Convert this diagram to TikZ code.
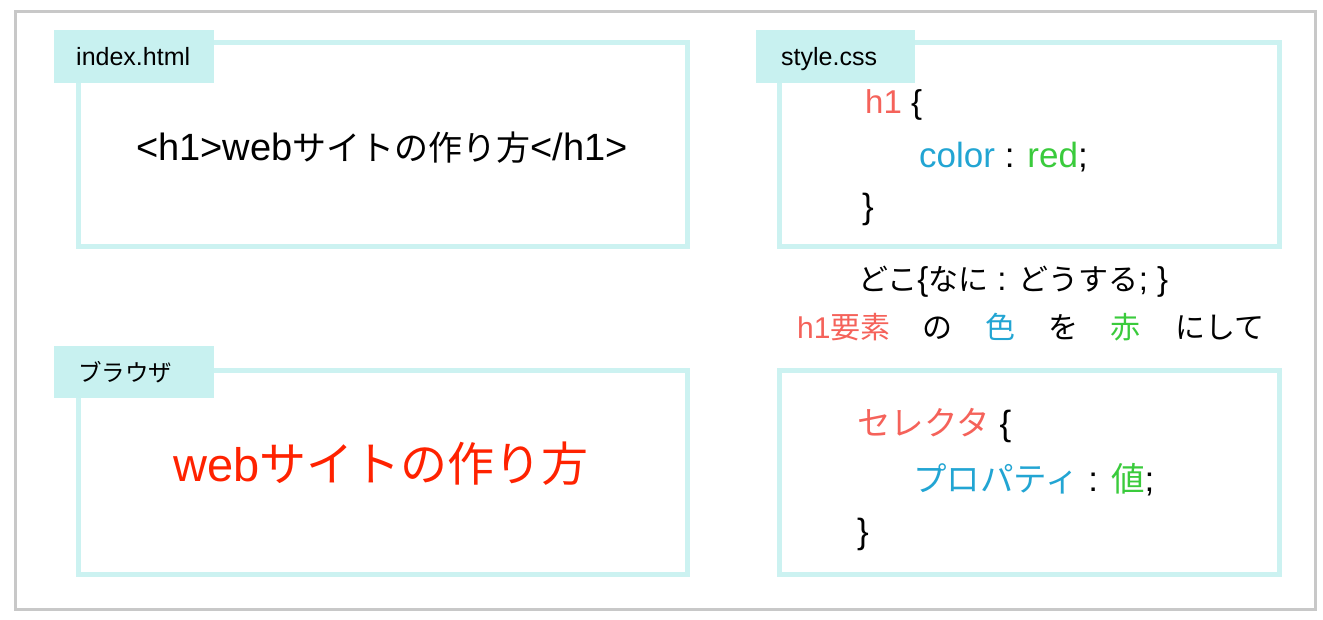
\documentclass[tikz,border=0pt]{standalone}
\usepackage{fontspec}
\setmainfont{Liberation Sans}
\newfontfamily\jp{Noto Sans CJK JP}
\definecolor{frame}{HTML}{C8C8C8}
\definecolor{cyanline}{HTML}{CCF2F1}
\definecolor{tabfill}{HTML}{C8F1F0}
\definecolor{sel}{HTML}{F5625A}
\definecolor{prop}{HTML}{22A5D3}
\definecolor{val}{HTML}{3ACB3C}
\definecolor{bigred}{HTML}{FF2200}
\newcommand{\fs}[1]{\fontsize{#1}{#1}\selectfont}
\newcommand{\jt}[2]{{\jp\fs{#1}#2}}
\tikzset{
  boxline/.style={draw=cyanline, line width=5pt},
  tabbox/.style={fill=tabfill},
  lab/.style={anchor=base west, inner sep=0pt, font=\fs{25}},
  code/.style={anchor=base west, inner sep=0pt, font=\fs{35}},
  expl/.style={anchor=base west, inner sep=0pt, font=\fs{30}},
}
\begin{document}
\begin{tikzpicture}[x=1pt,y=-1pt]
\useasboundingbox (0,0) rectangle (1323,619);
\fill[white] (0,0) rectangle (1323,619);
\draw[frame, line width=3pt] (15,11) rectangle (1315,609);
% boxes
\draw[boxline] (78,42) rectangle (687,246);
\draw[boxline] (779,42) rectangle (1279,246);
\draw[boxline] (78,370) rectangle (687,574);
\draw[boxline] (779,370) rectangle (1279,574);
% tabs
\fill[tabbox] (54,30) rectangle (214,83);
\fill[tabbox] (756,30) rectangle (915,83);
\fill[tabbox] (54,346) rectangle (214,398);
\node[lab] (t1) at (76,65) {index.html};
\node[lab] (t2) at (781,65) {style.css};
\node[lab] (t3) at (78,381) {\jt{23.5}{ブラウザ}};
% box 1
\node[anchor=base, inner sep=0pt, font=\fs{38}] (html) at (382,160) {<h1>web\jt{34}{サイトの作り方}</h1>};
% box 3
\node[anchor=base, inner sep=0pt, font=\fs{47}, text=bigred] (out) at (381,481) {web\jt{47}{サイトの作り方}};
% box 2
\node[code, font=\fs{33}] (c1) at (865,113) {\textcolor{sel}{h1} \{};
\node[code] (c2) at (919,167) {\textcolor{prop}{color} : \textcolor{val}{red};};
\node[code] (c3) at (862,218) {\}};
% explanation
\node[expl] (e1) at (858,290) {\jt{30}{どこ}{\fs{33}\{}\jt{30}{なに}{\fs{33} : }\jt{30}{どうする}{\fs{33}; \}}};
\node[expl, text=sel] (e2) at (797,338) {h1\jt{30}{要素}};
\node[expl] (e3) at (922,338) {\jt{30}{の}};
\node[expl, text=prop] (e4) at (985,338) {\jt{30}{色}};
\node[expl] (e5) at (1048,338) {\jt{30}{を}};
\node[expl, text=val] (e6) at (1110,338) {\jt{30}{赤}};
\node[expl] (e7) at (1175,338) {\jt{30}{にして}};
% box 4
\node[code] (g1) at (857,435) {\textcolor{sel}{\jt{33.5}{セレクタ}} \{};
\node[code] (g2) at (913,491) {\textcolor{prop}{\jt{33.5}{プロパティ}} : \textcolor{val}{\jt{33.5}{値}};};
\node[code] (g3) at (857,543) {\}};
\end{tikzpicture}
\end{document}
